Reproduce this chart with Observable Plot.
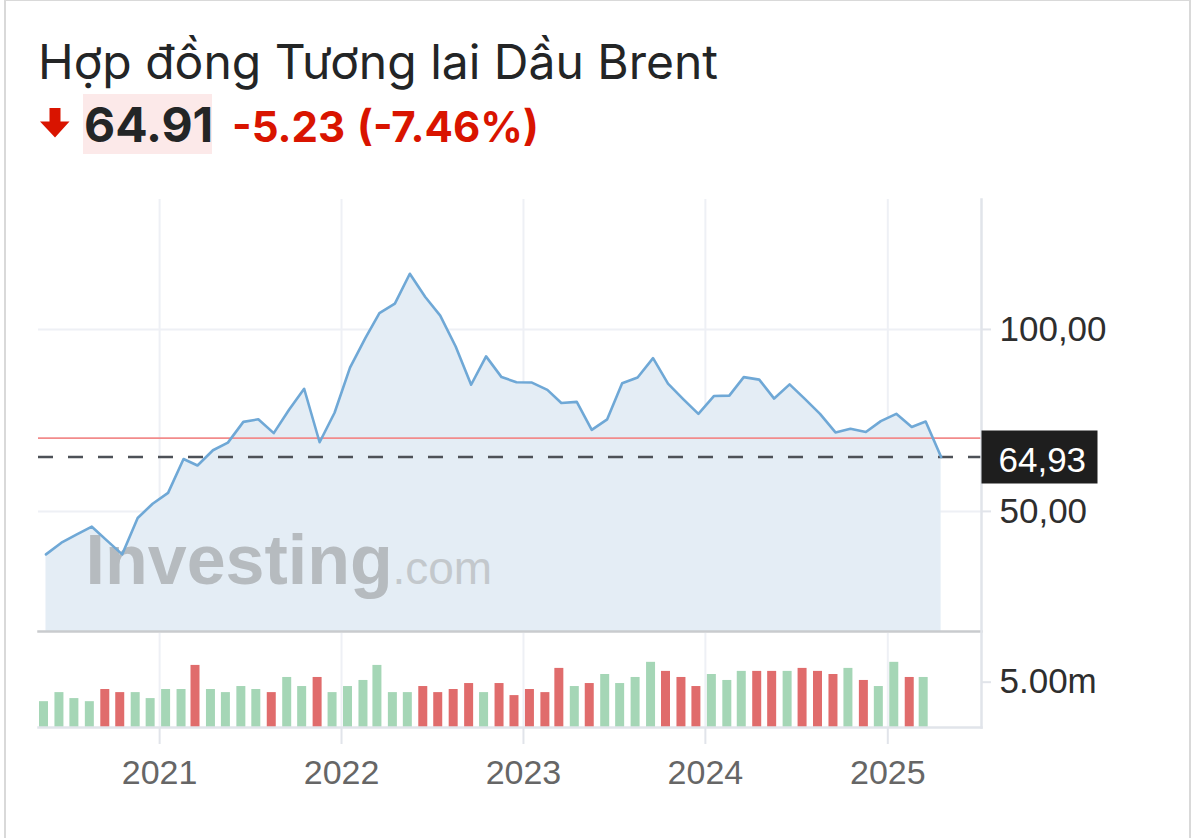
<!DOCTYPE html>
<html>
<head>
<meta charset="utf-8">
<script src="https://cdn.jsdelivr.net/npm/d3@7"></script>
<script src="https://cdn.jsdelivr.net/npm/@observablehq/plot@0.6"></script>
<style>
  html, body { margin: 0; padding: 0; background: #ffffff; }
  body { width: 1191px; height: 838px; overflow: hidden; position: relative; font-family: Inter, "Noto Sans", sans-serif; }
  #card { position: absolute; left: 4px; top: 0; width: 1183px; height: 1000px; border-left: 2px solid #d9d9d9; border-right: 2px solid #d9d9d9; border-top: 1px solid #d9d9d9; }
  #title { position: absolute; left: 38px; top: 38px; font-size: 48px; line-height: 48px; color: #232526; white-space: nowrap; }
  #arrow { position: absolute; left: 40px; top: 108px; }
  #price { position: absolute; left: 83px; top: 94px; width: 129px; height: 60px; background: #fce9e9; box-sizing: border-box; padding-left: 1px; padding-top: 2px; font-size: 48px; line-height: 58px; font-weight: 700; color: #232526; white-space: nowrap; }
  #change { position: absolute; left: 232px; top: 102px; font-size: 42px; line-height: 50px; font-weight: 700; color: #d91400; white-space: nowrap; }
  #change .pct { margin-left: 2px; }
  #priceChart { position: absolute; left: 0; top: 180px; }
  #volChart { position: absolute; left: 0; top: 632px; }
  svg { overflow: visible; }
</style>
</head>
<body>
<div id="card"></div>
<div id="title">Hợp đồng Tương lai Dầu Brent</div>
<svg id="arrow" width="30" height="30" viewBox="0 0 30 30"><path d="M9.5 0 H20.5 V13.5 H29.5 L15 29.5 L0 13.5 H9.5 Z" fill="#d91400"/></svg>
<div id="price">64.91</div>
<div id="change">-5.23 <span class="pct">(-7.46%)</span></div>
<div id="priceChart"></div>
<div id="volChart"></div>
<script>
// ---------- data ----------
const months = [
  "2020-05","2020-06","2020-07","2020-08","2020-09","2020-10","2020-11","2020-12",
  "2021-01","2021-02","2021-03","2021-04","2021-05","2021-06","2021-07","2021-08","2021-09","2021-10","2021-11","2021-12",
  "2022-01","2022-02","2022-03","2022-04","2022-05","2022-06","2022-07","2022-08","2022-09","2022-10","2022-11","2022-12",
  "2023-01","2023-02","2023-03","2023-04","2023-05","2023-06","2023-07","2023-08","2023-09","2023-10","2023-11","2023-12",
  "2024-01","2024-02","2024-03","2024-04","2024-05","2024-06","2024-07","2024-08","2024-09","2024-10","2024-11","2024-12",
  "2025-01","2025-02","2025-03","2025-04"
];
const closePrices = [
  38.2, 41.4, 43.6, 45.8, 41.9, 38.2, 48.2, 52.1,
  55.1, 64.4, 62.6, 66.8, 68.9, 74.6, 75.3, 71.5, 78.0, 83.7, 69.0, 77.1,
  89.5, 97.7, 104.5, 107.1, 115.3, 108.9, 103.8, 95.3, 84.8, 92.6, 86.9, 85.5,
  85.4, 83.4, 79.8, 80.1, 72.4, 75.3, 85.2, 86.8, 92.1, 85.1, 80.8, 76.8,
  81.7, 81.8, 86.9, 86.2, 81.0, 84.9, 81.0, 76.8, 71.7, 72.7, 71.8, 74.8,
  76.8, 73.2, 74.7, 64.93
];
// monthly volume in millions (May 2020 .. Mar 2025)
const volumeMillions = [
  2.85, 3.85, 3.19, 2.85, 4.19, 3.85, 3.85, 3.19,
  4.19, 4.19, 6.85, 4.19, 3.85, 4.52, 4.19, 3.85, 5.52, 4.52, 5.52, 3.85,
  4.52, 5.19, 6.85, 3.85, 3.85, 4.52, 3.85, 4.19, 4.85, 3.85, 4.85, 3.52,
  4.19, 3.85, 6.52, 4.52, 4.85, 5.85, 4.85, 5.52, 7.19, 6.19, 5.52, 4.52,
  5.85, 5.19, 6.19, 6.19, 6.19, 6.19, 6.52, 6.19, 5.85, 6.52, 5.19, 4.52,
  7.19, 5.52, 5.52
];
const yearTicks = [2021, 2022, 2023, 2024, 2025];
const priceTicks = [50, 100];
const volumeTicks = [5];
const lastPrice = 64.93;
const prevClose = 70.14;

// ---------- derived tables ----------
const toDate = (m, day) => new Date(Date.UTC(+m.slice(0, 4), +m.slice(5, 7) - 1, day));
const priceData = months.map((m, i) => ({date: toDate(m, 18), close: closePrices[i]}));
const volData = volumeMillions.map((v, i) => ({
  date: toDate(months[i], 13),
  vol: v,
  up: i === 0 ? true : closePrices[i] >= closePrices[i - 1]
}));
const yearDates = yearTicks.map(y => new Date(Date.UTC(y, 0, 1)));

const xDomain = [new Date(Date.UTC(2020, 4, 3)), new Date(Date.UTC(2025, 6, 8))];
const yDomain = [17, 135.7];
const gridColor = "#eef0f5";
const axisColor = "#e1e4ea";
const fmtPrice = d => d.toFixed(2).replace(".", ",");

const labelBox = {
  draw(context) { context.rect(-58, -26.5, 116, 53); }
};

const priceChart = Plot.plot({
  width: 1191,
  height: 453,
  marginTop: 19,
  marginBottom: 2,
  marginLeft: 38,
  marginRight: 210,
  style: {fontFamily: "'Liberation Sans', Arial, sans-serif", background: "transparent", overflow: "visible"},
  x: {type: "utc", domain: xDomain, axis: null},
  y: {domain: yDomain, axis: null},
  marks: [
    Plot.gridX(yearDates, {stroke: gridColor, strokeOpacity: 1, strokeWidth: 2}),
    Plot.gridY(priceTicks, {stroke: gridColor, strokeOpacity: 1, strokeWidth: 2}),
    Plot.areaY(priceData, {x: "date", y1: yDomain[0], y2: "close", fill: "#e4edf5"}),
    Plot.text(["Investing"], {frameAnchor: "bottom-left", dx: 47, dy: -48, lineAnchor: "bottom", textAnchor: "start",
      fontSize: 70, fontWeight: 700, fill: "#b6bbbf", fontFamily: "'Liberation Sans', Arial, sans-serif"}),
    Plot.text([".com"], {frameAnchor: "bottom-left", dx: 354, dy: -48, lineAnchor: "bottom", textAnchor: "start",
      fontSize: 46, fill: "#c3c8cc", fontFamily: "'Liberation Sans', Arial, sans-serif"}),
    Plot.ruleY([prevClose], {stroke: "#f28b8b", strokeWidth: 1.8}),
    Plot.ruleY([lastPrice], {stroke: "#4d5157", strokeWidth: 2.5, strokeDasharray: "15,15"}),
    Plot.lineY(priceData, {x: "date", y: "close", stroke: "#6fa8d6", strokeWidth: 2.6}),
    Plot.frame({anchor: "bottom", stroke: "#c9cbce", strokeWidth: 2.5}),
    Plot.frame({anchor: "right", stroke: axisColor, strokeWidth: 2.5}),
    Plot.axisY(priceTicks, {anchor: "right", label: null, tickSize: 9, tickPadding: 9, tickFormat: fmtPrice,
      fontSize: 35, fill: "#2e2e2e", stroke: axisColor, strokeWidth: 2}),
    Plot.dot([lastPrice], {y: d => d, frameAnchor: "right", dx: 58, symbol: labelBox, r: 5, fill: "#1e1e1e", stroke: null}),
    Plot.text([lastPrice], {y: d => d, frameAnchor: "right", dx: 17, dy: 4, textAnchor: "start",
      text: d => fmtPrice(d), fontSize: 35, fill: "#ffffff"})
  ]
});
document.getElementById("priceChart").append(priceChart);

const volChart = Plot.plot({
  width: 1191,
  height: 206,
  marginTop: 1,
  marginBottom: 111,
  marginLeft: 38,
  marginRight: 210,
  style: {fontFamily: "'Liberation Sans', Arial, sans-serif", background: "transparent", overflow: "visible"},
  x: {type: "utc", domain: xDomain, axis: null},
  y: {domain: [0, 10.37], axis: null},
  marks: [
    Plot.gridX(yearDates, {stroke: gridColor, strokeOpacity: 1, strokeWidth: 2}),
    Plot.ruleX(volData, {x: "date", y1: 0, y2: "vol", stroke: d => d.up ? "#a5d6b6" : "#e06c6c", strokeWidth: 9}),
    Plot.frame({anchor: "bottom", stroke: axisColor, strokeWidth: 2.5}),
    Plot.frame({anchor: "right", stroke: axisColor, strokeWidth: 2.5}),
    Plot.axisX(yearDates, {label: null, tickSize: 17, tickPadding: 15, tickFormat: d3.utcFormat("%Y"),
      fontSize: 34, fill: "#666666", stroke: axisColor, strokeWidth: 2}),
    Plot.axisY(volumeTicks, {anchor: "right", label: null, tickSize: 9, tickPadding: 9, tickFormat: d => d.toFixed(2) + "m",
      fontSize: 35, fill: "#2e2e2e", stroke: axisColor, strokeWidth: 2})
  ]
});
document.getElementById("volChart").append(volChart);
</script>
</body>
</html>
